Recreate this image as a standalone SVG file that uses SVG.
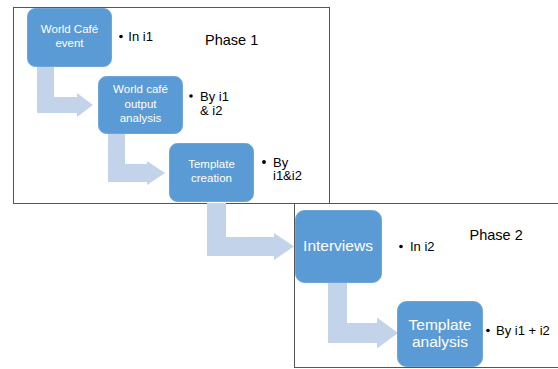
<svg xmlns="http://www.w3.org/2000/svg" width="558" height="369" viewBox="0 0 558 369">
  <style>
    .frame { fill: none; stroke: #555555; stroke-width: 1; }
    .step { fill: #5B9BD5; stroke: #6FA6DA; stroke-width: 1; }
    .flow { fill: #C3D4EA; }
    .label { font-family: "Liberation Sans", Arial, sans-serif; fill: #FFFFFF; text-anchor: middle; }
    .note { font-family: "Liberation Sans", Arial, sans-serif; fill: #000000; font-size: 13px; }
    .title { font-family: "Liberation Sans", Arial, sans-serif; fill: #000000; font-size: 14.5px; }
    .dot { fill: #000000; }
  </style>
  <rect width="558" height="369" fill="#FFFFFF"/>

  <!-- phase frames -->
  <g id="phase1">
    <rect class="frame" x="13.5" y="7.5" width="316" height="196"/>
    <text class="title" x="205" y="44.5">Phase 1</text>
  </g>
  <g id="phase2">
    <rect class="frame" x="294.5" y="203.5" width="270" height="164"/>
    <text class="title" x="469.5" y="239.5">Phase 2</text>
  </g>

  <!-- bent flow arrows -->
  <g id="connectors">
    <polygon class="flow" points="37,66 54,66 54,97 77,97 77,93 93,105 77,117 77,113 37,113"/>
    <polygon class="flow" points="108,133 125,133 125,164 147,164 147,161 165,173 147,185 147,182 108,182"/>
    <polygon class="flow" points="207,203 226,203 226,237 274,237 274,233 294,246.5 274,260 274,256 207,256"/>
    <polygon class="flow" points="328,283 347,283 347,323 377,323 377,317.5 398,333 377,348.5 377,343 328,343"/>
  </g>

  <!-- process steps -->
  <g id="world-cafe-event">
    <rect class="step" x="27.5" y="8.5" width="84" height="58" rx="8"/>
    <text class="label" font-size="11.5" x="69.5" y="33.3">World Café</text>
    <text class="label" font-size="11.5" x="69.5" y="47.3">event</text>
  </g>
  <g id="output-analysis">
    <rect class="step" x="98.5" y="76.5" width="84" height="57" rx="8"/>
    <text class="label" font-size="11.5" x="140.5" y="93.3">World café</text>
    <text class="label" font-size="11.5" x="140.5" y="107.8">output</text>
    <text class="label" font-size="11.5" x="140.5" y="122">analysis</text>
  </g>
  <g id="template-creation">
    <rect class="step" x="169.5" y="143.5" width="84" height="58" rx="8"/>
    <text class="label" font-size="11.5" x="211.5" y="167.7">Template</text>
    <text class="label" font-size="11.5" x="211.5" y="182.3">creation</text>
  </g>
  <g id="interviews">
    <rect class="step" x="295.5" y="210.5" width="86" height="72" rx="9"/>
    <text class="label" font-size="15.5" x="338" y="251">Interviews</text>
  </g>
  <g id="template-analysis">
    <rect class="step" x="397.5" y="301.5" width="85" height="65" rx="9"/>
    <text class="label" font-size="15.5" x="440" y="330">Template</text>
    <text class="label" font-size="15.5" x="440" y="347">analysis</text>
  </g>

  <!-- bullet notes -->
  <g id="note-in-i1">
    <circle class="dot" cx="121" cy="36.5" r="1.8"/>
    <text class="note" x="128.3" y="41">In i1</text>
  </g>
  <g id="note-by-i1-i2">
    <circle class="dot" cx="191" cy="96" r="1.8"/>
    <text class="note" x="200" y="100.7">By i1</text>
    <text class="note" x="200" y="115.3">&amp; i2</text>
  </g>
  <g id="note-by-i1i2">
    <circle class="dot" cx="264" cy="162" r="1.9"/>
    <text class="note" font-size="14" x="273" y="166.5">By</text>
    <text class="note" font-size="14" x="273" y="180">i1&amp;i2</text>
  </g>
  <g id="note-in-i2">
    <circle class="dot" cx="401" cy="246.5" r="1.8"/>
    <text class="note" x="410" y="251">In i2</text>
  </g>
  <g id="note-by-i1-plus-i2">
    <circle class="dot" cx="488" cy="330.5" r="1.8"/>
    <text class="note" x="496" y="335">By i1 + i2</text>
  </g>
</svg>
